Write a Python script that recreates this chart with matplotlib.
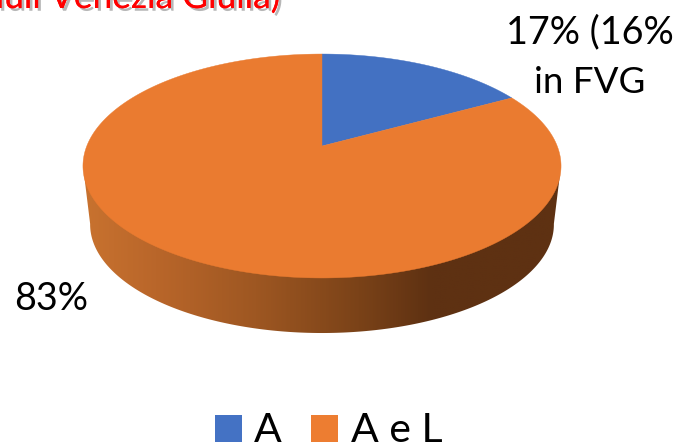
import numpy as np
import matplotlib
matplotlib.use("Agg")
import matplotlib.pyplot as plt
from matplotlib.patches import Polygon, Rectangle
from matplotlib.colors import LinearSegmentedColormap
import matplotlib.patheffects as pe

categories = ["A", "A e L"]
shares = [17, 83]
legend_colors = ["#4472C4", "#ED7D31"]
face_colors = ["#4371C2", "#EA7B30"]
slice_labels = ["17% (16%\nin FVG", "83%"]
title_text = "Friuli Venezia Giulia)"

plt.rcParams["font.family"] = ["Lato", "DejaVu Sans"]

fig = plt.figure(figsize=(6.8, 4.44), dpi=100)
ax = fig.add_axes([0, 0, 1, 1])
ax.set_xlim(0, 680)
ax.set_ylim(444, 0)
ax.axis("off")

APEX_X, APEX_Y = 322, 146
A, B, K = 235.2, 108.4, 0.1786


def project(theta, scale=1.0, dy=0.0):
    u, v = np.sin(theta), np.cos(theta)
    w = 1 + K * v
    return np.column_stack((APEX_X + scale * A * u / w,
                            APEX_Y - scale * B * v / w + dy))


# side wall
t_side = np.radians(np.linspace(100, 260, 240))
bottom = project(t_side, 0.97, 59)
left_top = project(np.radians([260.0]))[0]
right_top = project(np.radians([100.0]))[0]
wall = np.vstack((right_top, bottom, left_top))
cmap = LinearSegmentedColormap.from_list(
    "wall",
    [(0.0, "#C8722F"), (0.15, "#B9662A"), (0.36, "#9E5722"), (0.58, "#7A4218"),
     (0.73, "#5E3112"), (1.0, "#5E3112")])
im = ax.imshow(np.linspace(0, 1, 480)[None, :], extent=(84, 560, 340, 100),
               cmap=cmap, aspect="auto", interpolation="bilinear", zorder=1)
im.set_clip_path(Polygon(wall, closed=True, transform=ax.transData))
ax.set_xlim(0, 680)
ax.set_ylim(444, 0)

# top face
edges = np.radians(np.cumsum([0] + shares) * 3.6)
for i, c in enumerate(face_colors):
    th = np.linspace(edges[i], edges[i + 1], 300)
    pts = np.vstack(([APEX_X, APEX_Y], project(th)))
    ax.add_patch(Polygon(pts, closed=True, facecolor=c, edgecolor=c, lw=0.3, zorder=2))

# labels
ax.text(590, 43, slice_labels[0].split("\n")[0], ha="center", va="baseline",
        fontsize=27.2, color="black", zorder=3)
ax.text(590, 93, slice_labels[0].split("\n")[1], ha="center", va="baseline",
        fontsize=26.5, color="black", zorder=3)
ax.text(51, 310, slice_labels[1], ha="center", va="baseline",
        fontsize=27.2, color="black", zorder=3)

ax.text(280, 8, title_text, ha="right", va="baseline", fontsize=25.5, color="#FF0000",
        zorder=3,
        path_effects=[pe.withSimplePatchShadow(offset=(2, -2), shadow_rgbFace="#888888",
                                               alpha=0.6), pe.Normal()])

# legend
swatch_x = [215, 311]
label_x = [254, 351]
for sx, lx, c, name in zip(swatch_x, label_x, legend_colors, categories):
    ax.add_patch(Rectangle((sx, 415), 27, 27, facecolor=c, edgecolor="none", zorder=3))
    ax.text(lx, 442, name, ha="left", va="baseline", fontsize=29.5, color="black", zorder=3)

fig.savefig("out.png", dpi=100)
